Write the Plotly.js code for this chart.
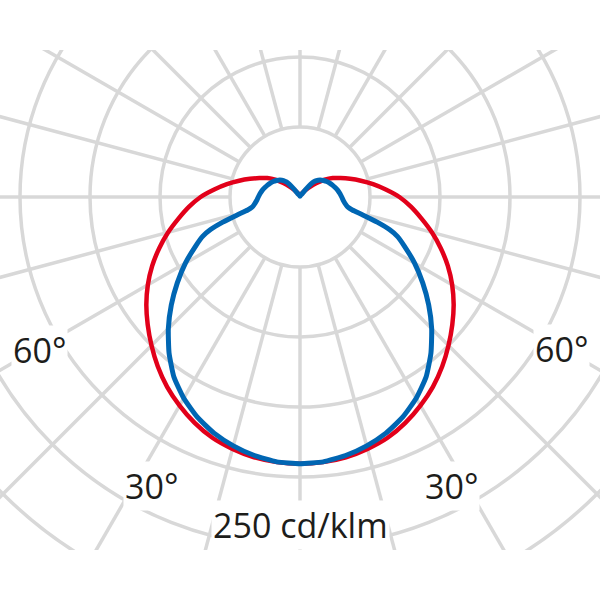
<!DOCTYPE html>
<html>
<head>
<meta charset="utf-8">
<script src="https://cdn.plot.ly/plotly-3.0.1.min.js"></script>
<style>
  html, body { margin: 0; padding: 0; background: #ffffff; width: 600px; height: 600px; overflow: hidden; }
  #clip { position: absolute; left: 0; top: 50px; width: 600px; height: 500px; overflow: hidden; background: #ffffff; }
  #plot { position: absolute; left: -200px; top: -353px; width: 1000px; height: 1000px; }
</style>
</head>
<body>
<div id="clip"><div id="plot"></div></div>
<script>
// Photometric angle gamma (0 = straight down, 180 = straight up), degrees
const gammaRed  = [0,5,10,15,20,25,30,35,40,45,50,55,60,65,70,75,80,85,90,95,100,105,110,115,120,125,130,135,140,150,160,170,180];
const redPlane  = [190.5,190.1,188.8,186.3,183,178,172,165.5,158,150,142,134,125.5,116.5,107,97.5,88,79.5,71,61.5,53,45,38,32,27,21.5,15.5,10.5,7,3.5,2,1.2,1];
const gammaBlue = [0,5,10,15,20,25,30,35,40,45,50,55,60,65,68,70,72,74,76,78,80,85,90,95,100,105,110,115,120,125,130,135,138,140,142,144,147,150,160,170,180];
const bluePlane = [190.5,189.9,187.5,184,179.5,173.5,166,157,145.5,133,120,107,94.5,82,75,68,58,47,38.5,35,33.5,31.2,29.8,28.6,27.4,26,24.7,23.4,22.1,20.5,18.8,16.6,14.5,12,8,4.5,2.5,2,1.2,0.8,0.5];
// Labels
const angleLabels = [
  {text: '60°', px: 39,  py: 350},
  {text: '60°', px: 561, py: 349},
  {text: '30°', px: 151, py: 486},
  {text: '30°', px: 451, py: 486}
];
const scaleLabel = {text: '250 cd/klm', px: 300, py: 525};
// Grid spokes (every 15°, drawn from the first ring outward) – style only
const spokeAngles = [0,15,30,45,60,75,90,105,120,135,150,165,180,195,210,225,240,255,270,285,300,315,330,345];
const spokeFrom = 50, spokeTo = 350;

function mirror(g, v) {
  const th = [], r = [];
  for (let i = g.length - 1; i >= 0; i--) { th.push(360 - g[i]); r.push(v[i]); }
  for (let i = 1; i < g.length; i++) { th.push(g[i]); r.push(v[i]); }
  return {th, r};
}
const red = mirror(gammaRed, redPlane);
const blue = mirror(gammaBlue, bluePlane);

const spokeR = [], spokeT = [];
spokeAngles.forEach(a => { spokeR.push(spokeFrom, spokeTo, null); spokeT.push(a, a, null); });

const grid = '#d8d8d8';
const traces = [
  { type: 'scatterpolar', mode: 'lines', r: spokeR, theta: spokeT,
    line: {color: grid, width: 3.5}, hoverinfo: 'skip', connectgaps: false },
  { type: 'scatterpolar', mode: 'lines', r: red.r, theta: red.th,
    line: {color: '#e2001a', width: 4.5, shape: 'spline', smoothing: 1} },
  { type: 'scatterpolar', mode: 'lines', r: blue.r, theta: blue.th,
    line: {color: '#0066b3', width: 5, shape: 'spline', smoothing: 0.5} }
];

function px2x(px) { return (px + 190) / 980; }
function py2y(py) { return 1 - (py + 293) / 980; }
const fontSpec = {family: 'Open Sans, Noto Sans, sans-serif', size: 34, color: '#1d1d1b'};
const annotations = angleLabels.concat([scaleLabel]).map(a => ({
  text: a.text, xref: 'paper', yref: 'paper', x: px2x(a.px), y: py2y(a.py),
  xanchor: 'center', yanchor: 'middle', showarrow: false,
  bgcolor: '#ffffff', borderpad: 1, font: fontSpec
}));

const layout = {
  width: 1000, height: 1000,
  margin: {l: 10, r: 10, t: 10, b: 10},
  paper_bgcolor: '#ffffff',
  showlegend: false,
  polar: {
    bgcolor: '#ffffff',
    domain: {x: [0, 1], y: [0, 1]},
    radialaxis: { range: [0, 350], tickmode: 'linear', tick0: 0, dtick: 50,
      showticklabels: false, ticks: '', showline: false,
      gridcolor: grid, gridwidth: 3.5 },
    angularaxis: { rotation: -90, direction: 'counterclockwise',
      tickmode: 'linear', tick0: 0, dtick: 15,
      showticklabels: false, ticks: '', showline: false, showgrid: false }
  },
  annotations: annotations
};

Plotly.newPlot('plot', traces, layout, {displayModeBar: false, staticPlot: true});
</script>
</body>
</html>
